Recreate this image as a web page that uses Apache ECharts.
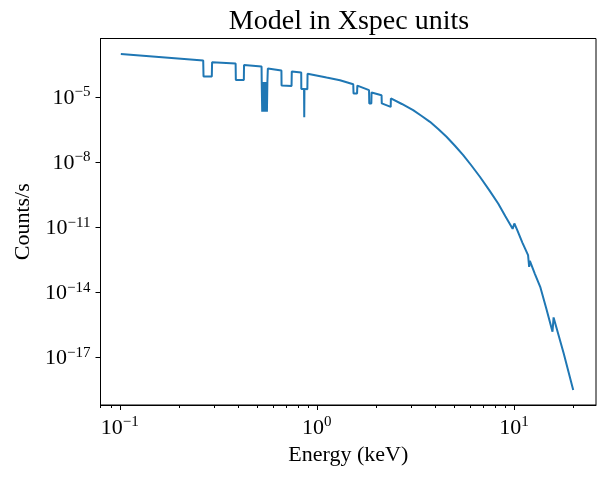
<!DOCTYPE html>
<html>
<head>
<meta charset="utf-8">
<script src="https://cdn.jsdelivr.net/npm/echarts@6/dist/echarts.min.js"></script>
<style>
html,body{margin:0;padding:0;background:#fff;}
#chart{width:605px;height:477px;}
</style>
</head>
<body>
<div id="chart"></div>
<script>
// Energy (keV)
const energies = [
  0.1012, 0.265, 0.266, 0.293, 0.294, 0.387, 0.388, 0.426, 0.427, 0.524, 0.525,
  0.528, 0.531, 0.534, 0.537, 0.540, 0.543, 0.546, 0.549, 0.552, 0.555, 0.558, 0.561, 0.563, 0.564,
  0.661, 0.662, 0.744, 0.746, 0.833, 0.834, 0.861, 0.863, 0.865, 0.895, 0.897,
  1.12, 1.31, 1.53, 1.535, 1.60, 1.605, 1.84, 1.845, 1.89, 1.895, 2.13, 2.135, 2.37, 2.375,
  2.70, 3.08, 3.39, 3.75, 4.13, 4.55, 5.02, 5.53, 6.10, 6.72, 7.48, 8.32, 9.05, 9.85, 10.05, 10.4,
  11.04, 11.8, 11.95, 12.05, 12.79, 13.6, 14.6, 15.7, 15.9, 17.9, 20.0
];
// Counts/s
const counts = [
  9.55e-4, 4.74e-4, 8.71e-5, 8.71e-5, 3.98e-4, 3.47e-4, 6.03e-5, 6.03e-5, 2.95e-4, 2.51e-4, 4.90e-5,
  2.09e-6, 4.90e-5, 2.09e-6, 4.90e-5, 2.09e-6, 4.90e-5, 2.09e-6, 4.90e-5, 2.09e-6, 4.90e-5, 2.09e-6, 4.90e-5, 4.90e-5, 2.04e-4,
  1.66e-4, 3.31e-5, 3.16e-5, 1.48e-4, 1.32e-4, 2.34e-5, 2.34e-5, 1.15e-6, 2.34e-5, 2.24e-5, 1.17e-4,
  7.76e-5, 5.89e-5, 3.80e-5, 1.45e-5, 1.45e-5, 3.31e-5, 2.04e-5, 5.01e-6, 5.01e-6, 1.58e-5, 1.20e-5, 5.01e-6, 3.47e-6, 8.51e-6,
  4.71e-6, 2.45e-6, 1.35e-6, 7.08e-7, 3.29e-7, 1.45e-7, 5.61e-8, 2.09e-8, 6.73e-9, 2.09e-9, 5.22e-10, 1.23e-10, 3.15e-11, 8.32e-12, 1.48e-11, 7.24e-12,
  1.95e-12, 5.13e-13, 1.48e-13, 2.82e-13, 6.87e-14, 1.78e-14, 1.78e-15, 1.51e-16, 6.92e-16, 1.51e-17, 3.16e-19
];
// tick values (decades)
const xMajorTicks = [0.1, 1, 10];
const xMinorTicks = [0.08, 0.09, 0.2, 0.3, 0.4, 0.5, 0.6, 0.7, 0.8, 0.9, 2, 3, 4, 5, 6, 7, 8, 9, 20];
const yMajorTicks = [1e-5, 1e-8, 1e-11, 1e-14, 1e-17];
const xRange = [0.0798, 26.1];
const yRange = [6.4e-20, 4.9e-3];

const L = Math.log10;
const FONT = "'Liberation Serif', 'DejaVu Serif', serif";
const seriesData = energies.map((e, i) => [L(e), L(counts[i])]);

function powLabel(v) {
  const n = Math.round(v);
  const s = n < 0 ? '\u2212' + Math.abs(n) : String(n);
  return '{b|10}{s|' + s + '}';
}
const rich = {
  b: {fontFamily: FONT, fontSize: 22, lineHeight: 24, color: '#000', verticalAlign: 'bottom'},
  s: {fontFamily: FONT, fontSize: 15, lineHeight: 14, color: '#000', verticalAlign: 'top'}
};

const chart = echarts.init(document.getElementById('chart'), null, {renderer: 'canvas'});
chart.setOption({
  animation: false,
  backgroundColor: '#fff',
  title: {
    text: 'Model in Xspec units',
    left: 344, top: 3, textAlign: 'center',
    textStyle: {fontFamily: FONT, fontSize: 28, fontWeight: 'normal', color: '#000'}
  },
  grid: {left: 100.5, right: 9, top: 38.5, bottom: 72, show: true, borderColor: '#000', borderWidth: 1, backgroundColor: 'transparent'},
  xAxis: [{
    type: 'value', min: L(xRange[0]), max: L(xRange[1]), position: 'bottom',
    name: 'Energy (keV)', nameLocation: 'middle', nameGap: 25,
    nameTextStyle: {fontFamily: FONT, fontSize: 22, color: '#000'},
    axisLine: {show: true, onZero: false, lineStyle: {color: '#000', width: 1}},
    axisTick: {show: true, length: 5, lineStyle: {color: '#000', width: 1}, customValues: xMajorTicks.map(L)},
    axisLabel: {show: true, margin: 10, customValues: xMajorTicks.map(L), formatter: powLabel, rich: rich},
    splitLine: {show: false}
  }, {
    type: 'value', min: L(xRange[0]), max: L(xRange[1]), position: 'bottom',
    axisLine: {show: false},
    axisTick: {show: true, length: 3, lineStyle: {color: '#000', width: 1}, customValues: xMinorTicks.map(L)},
    axisLabel: {show: false},
    splitLine: {show: false}
  }],
  yAxis: [{
    type: 'value', min: L(yRange[0]), max: L(yRange[1]), position: 'left',
    name: 'Counts/s', nameLocation: 'middle', nameGap: 66, nameRotate: 90,
    nameTextStyle: {fontFamily: FONT, fontSize: 22, color: '#000'},
    axisLine: {show: true, onZero: false, lineStyle: {color: '#000', width: 1}},
    axisTick: {show: true, length: 5, lineStyle: {color: '#000', width: 1}, customValues: yMajorTicks.map(L)},
    axisLabel: {show: true, margin: 10, customValues: yMajorTicks.map(L), formatter: powLabel, rich: rich},
    splitLine: {show: false}
  }],
  series: [{
    type: 'line', xAxisIndex: 0, yAxisIndex: 0,
    data: seriesData, showSymbol: false, symbol: 'none',
    lineStyle: {color: '#1f77b4', width: 2},
    clip: true
  }]
});
</script>
</body>
</html>
